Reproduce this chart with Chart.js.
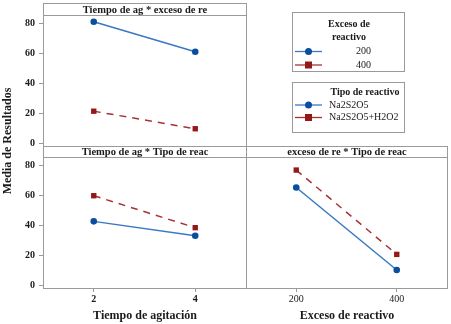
<!DOCTYPE html>
<html>
<head>
<meta charset="utf-8">
<script src="https://cdn.jsdelivr.net/npm/chart.js@4/dist/chart.umd.min.js"></script>
<style>
  html, body { margin: 0; padding: 0; background: #fff; }
  #wrap { position: relative; width: 451px; height: 324px; }
  #wrap canvas { position: absolute; left: 0; top: 0; }
</style>
</head>
<body>
<div id="wrap">
  <canvas id="panel-a" width="451" height="324"></canvas>
  <canvas id="panel-b" width="451" height="324"></canvas>
  <canvas id="panel-c" width="451" height="324"></canvas>
</div>
<script>
// factor levels and ticks
const tiempoTicks = [2, 4];
const excesoTicks = [200, 400];
const yTicks = [0, 20, 40, 60, 80];
const excesoLevels = ['200', '400'];
const tipoLevels = ['Na2S2O5', 'Na2S2O5+H2O2'];

// interaction means
const tiempoExceso200 = [81.1, 61.1];
const tiempoExceso400 = [21.5, 9.8];
const tiempoNa2S2O5 = [42.7, 33.1];
const tiempoNa2S2O5H2O2 = [59.8, 38.5];
const excesoNa2S2O5 = [65.3, 10.3];
const excesoNa2S2O5H2O2 = [76.9, 20.7];

const SERIF = '"Liberation Serif", "Times New Roman", serif';
const BLUE = '#0a4f9e';
const BLUE_LINE = '#3a77c4';
const RED = '#951818';
const RED_LINE = '#a83232';
const FRAME = '#9a9a9a';
const TEXT = '#1a1a1a';

const toPoints = (xs, ys) => xs.map((x, i) => ({ x: x, y: ys[i] }));

const blueSet = (label, xs, ys) => ({
  label: label,
  data: toPoints(xs, ys),
  borderColor: BLUE_LINE,
  backgroundColor: BLUE,
  borderWidth: 1.5,
  pointStyle: 'circle',
  pointRadius: 3.3,
  pointBorderWidth: 0,
  pointBackgroundColor: BLUE,
  tension: 0
});

const redSet = (label, xs, ys) => ({
  label: label,
  data: toPoints(xs, ys),
  borderColor: RED_LINE,
  backgroundColor: RED,
  borderWidth: 1.5,
  borderDash: [7, 6],
  pointStyle: 'rect',
  pointRadius: 3.8,
  pointBorderWidth: 0,
  pointBackgroundColor: RED,
  tension: 0
});

// frame + strip title on top of each panel
const panelPlugin = {
  id: 'panelFrame',
  afterDraw(chart, args, opts) {
    const ctx = chart.ctx;
    const a = chart.chartArea;
    const l = Math.round(a.left) + 0.5, r = Math.round(a.right) + 0.5;
    const t = Math.round(a.top) + 0.5, b = Math.round(a.bottom) + 0.5;
    ctx.save();
    ctx.strokeStyle = FRAME;
    ctx.lineWidth = 1;
    ctx.strokeRect(l, t, r - l, b - t);
    const sh = opts.stripHeight;
    ctx.fillStyle = '#fff';
    ctx.fillRect(l, t - sh, r - l, sh);
    ctx.strokeRect(l, t - sh, r - l, sh);
    ctx.fillStyle = TEXT;
    ctx.font = 'bold 10.5px ' + SERIF;
    ctx.textAlign = 'center';
    ctx.textBaseline = 'middle';
    ctx.fillText(opts.strip, (l + r) / 2, t - sh / 2 + 0.5);
    if (opts.xTitle) {
      ctx.font = 'bold 12px ' + SERIF;
      ctx.fillText(opts.xTitle, (l + r) / 2, 316);
    }
    if (opts.yTitle) {
      ctx.translate(8, 141);
      ctx.rotate(-Math.PI / 2);
      ctx.font = 'bold 12px ' + SERIF;
      ctx.fillText(opts.yTitle, 0, 0);
    }
    ctx.restore();
  }
};

// legend boxes in the empty top-right cell
const legendPlugin = {
  id: 'sideLegend',
  afterDraw(chart) {
    const ctx = chart.ctx;
    ctx.save();
    ctx.strokeStyle = FRAME;
    ctx.lineWidth = 1;
    ctx.strokeRect(292.5, 12.5, 112, 59);
    ctx.strokeRect(292.5, 82.5, 112, 50);

    const icon = (y, isRed) => {
      ctx.strokeStyle = isRed ? RED_LINE : BLUE_LINE;
      ctx.lineWidth = 1.3;
      ctx.beginPath();
      ctx.moveTo(295, y);
      ctx.lineTo(322, y);
      ctx.stroke();
      ctx.fillStyle = isRed ? RED : BLUE;
      if (isRed) {
        ctx.fillRect(305, y - 3.5, 7, 7);
      } else {
        ctx.beginPath();
        ctx.arc(308.5, y, 3.5, 0, Math.PI * 2);
        ctx.fill();
      }
    };

    ctx.fillStyle = TEXT;
    ctx.textBaseline = 'middle';
    ctx.font = 'bold 10px ' + SERIF;
    ctx.textAlign = 'center';
    ctx.fillText('Exceso de', 349, 24);
    ctx.fillText('reactivo', 349, 37);
    ctx.fillText('Tipo de reactivo', 365, 92);

    excesoLevels.forEach((lab, i) => {
      const y = 51.5 + i * 13.5;
      icon(y, i === 1);
      ctx.fillStyle = TEXT;
      ctx.font = '10px ' + SERIF;
      ctx.textAlign = 'right';
      ctx.fillText(lab, 371, y);
    });
    tipoLevels.forEach((lab, i) => {
      const y = 105 + i * 12.5;
      icon(y, i === 1);
      ctx.fillStyle = TEXT;
      ctx.font = '10px ' + SERIF;
      ctx.textAlign = 'left';
      ctx.fillText(lab, 329, y);
    });
    ctx.restore();
  }
};

const yScale = (show) => ({
  type: 'linear',
  display: show,
  min: -1.7,
  max: 85.6,
  afterFit(s) { s.width = show ? 43 : 0; },
  afterBuildTicks(s) { s.ticks = yTicks.map(v => ({ value: v })); },
  border: { display: false },
  grid: { drawOnChartArea: false, drawTicks: true, tickLength: 4, color: FRAME },
  ticks: { padding: 4, color: TEXT, font: { family: SERIF, size: 10, weight: 'bold' } }
});

const xScale = (show, lo, hi, tickVals, bold) => ({
  type: 'linear',
  display: show,
  min: lo,
  max: hi,
  afterFit(s) { s.height = show ? 36 : 0; },
  afterBuildTicks(s) { s.ticks = tickVals.map(v => ({ value: v })); },
  border: { display: false },
  grid: { drawOnChartArea: false, drawTicks: true, tickLength: 4, color: FRAME },
  ticks: { padding: 1, color: TEXT, maxRotation: 0, font: { family: SERIF, size: 10, weight: bold ? 'bold' : 'normal' } }
});

const baseOptions = (pad, scales, panelOpts) => ({
  responsive: false,
  animation: false,
  devicePixelRatio: 1,
  layout: { padding: pad },
  scales: scales,
  plugins: {
    legend: { display: false },
    tooltip: { enabled: false },
    panelFrame: panelOpts
  }
});

new Chart(document.getElementById('panel-a'), {
  type: 'line',
  data: {
    datasets: [
      blueSet(excesoLevels[0], tiempoTicks, tiempoExceso200),
      redSet(excesoLevels[1], tiempoTicks, tiempoExceso400)
    ]
  },
  options: baseOptions(
    { left: 0, top: 15, right: 205, bottom: 178 },
    { x: xScale(false, 1, 5, tiempoTicks, true), y: yScale(true) },
    { strip: 'Tiempo de ag * exceso de re', stripHeight: 12, yTitle: 'Media de Resultados' }
  ),
  plugins: [panelPlugin, legendPlugin]
});

new Chart(document.getElementById('panel-b'), {
  type: 'line',
  data: {
    datasets: [
      blueSet(tipoLevels[0], tiempoTicks, tiempoNa2S2O5),
      redSet(tipoLevels[1], tiempoTicks, tiempoNa2S2O5H2O2)
    ]
  },
  options: baseOptions(
    { left: 0, top: 157, right: 205, bottom: 0 },
    { x: xScale(true, 1, 5, tiempoTicks, true), y: yScale(true) },
    { strip: 'Tiempo de ag * Tipo de reac', stripHeight: 11, xTitle: 'Tiempo de agitación' }
  ),
  plugins: [panelPlugin]
});

new Chart(document.getElementById('panel-c'), {
  type: 'line',
  data: {
    datasets: [
      blueSet(tipoLevels[0], excesoTicks, excesoNa2S2O5),
      redSet(tipoLevels[1], excesoTicks, excesoNa2S2O5H2O2)
    ]
  },
  options: baseOptions(
    { left: 246, top: 157, right: 3, bottom: 0 },
    { x: xScale(true, 100, 500, excesoTicks, false), y: yScale(false) },
    { strip: 'exceso de re * Tipo de reac', stripHeight: 11, xTitle: 'Exceso de reactivo' }
  ),
  plugins: [panelPlugin]
});
</script>
</body>
</html>
